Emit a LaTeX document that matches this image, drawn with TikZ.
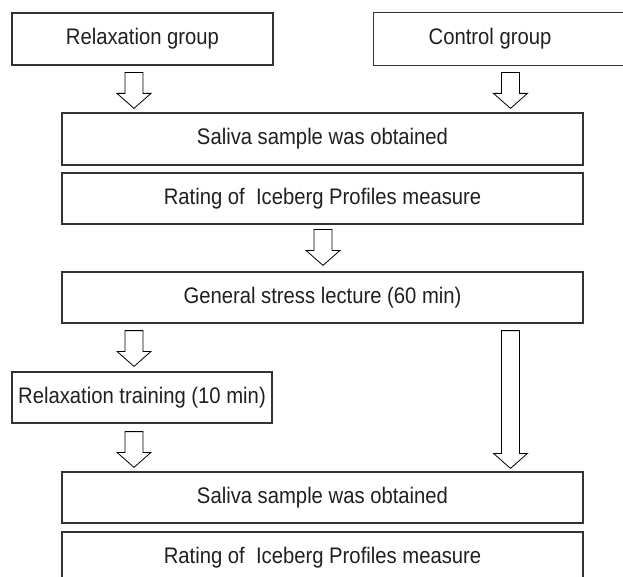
\documentclass[tikz,border=0pt]{standalone}
\usepackage{fontspec}
\setmainfont{Liberation Sans}[FakeStretch=0.9]
\usetikzlibrary{calc}
\definecolor{boxgray}{HTML}{333333}
\definecolor{txt}{HTML}{231F20}
\tikzset{
  flowbox/.style={draw=boxgray, line width=1.2pt, rectangle, inner sep=0pt,
    minimum height=51pt, text=txt, font=\fontsize{22.5}{26}\selectfont},
  openbox/.style={flowbox, draw=none},
  boxline/.style={draw=boxgray, line width=1.2pt},
  barrow/.style={draw=black, line width=0.8pt, fill=white, line join=miter}
}
\newcommand\blockarrow[2]{%
  \draw[barrow] ([xshift=-9pt]#1) -- ([xshift=-9pt,yshift=15pt]#2)
    -- ([xshift=-17pt,yshift=15pt]#2) -- (#2)
    -- ([xshift=17pt,yshift=15pt]#2) -- ([xshift=9pt,yshift=15pt]#2)
    -- ([xshift=9pt]#1) -- cycle;}
\begin{document}
\begin{tikzpicture}[x=1pt,y=-1pt]
\useasboundingbox (0,0) rectangle (623,577);
\clip (0,0) rectangle (623,577);
\fill[white] (0,0) rectangle (623,577);
% boxes
\node[flowbox, minimum width=261pt, minimum height=52pt] (rg) at (142.5,39) {Relaxation group};
\node[openbox, minimum width=232pt, minimum height=52pt] (cg) at (490,39) {Control group};
\draw[boxline] ([xshift=40pt]cg.north east) -- (cg.north west) -- (cg.south west) -- ([xshift=40pt]cg.south east);
\node[flowbox, minimum width=521pt, minimum height=52pt] (s1) at (322.5,139) {Saliva sample was obtained};
\node[flowbox, minimum width=521pt] (r1) at (322.5,198.5) {Rating of~ Iceberg Profiles measure};
\node[flowbox, minimum width=521pt] (gs) at (322.5,297.5) {General stress lecture (60 min)};
\node[flowbox, minimum width=260pt] (rt) at (142,397.5) {Relaxation training (10 min)};
\node[flowbox, minimum width=521pt] (s2) at (322.5,497.5) {Saliva sample was obtained};
\node[flowbox, minimum width=521pt] (r2) at (322.5,557.5) {Rating of~ Iceberg Profiles measure};
% arrow columns
\coordinate (xl) at (134,0);
\coordinate (xm) at (323,0);
\coordinate (xr) at (510.5,0);
% arrow ends
\coordinate (a1s) at ([yshift=-7pt]xl |- rg.south);
\coordinate (a1e) at ([yshift=4pt]xl |- s1.north);
\coordinate (a2s) at ([yshift=-7pt]xr |- cg.south);
\coordinate (a2e) at ([yshift=4pt]xr |- s1.north);
\coordinate (a3s) at ([yshift=-5pt]xm |- r1.south);
\coordinate (a3e) at ([yshift=6pt]xm |- gs.north);
\coordinate (a4s) at ([yshift=-7pt]xl |- gs.south);
\coordinate (a4e) at ([yshift=5pt]xl |- rt.north);
\coordinate (a5s) at ([yshift=-7pt]xr |- gs.south);
\coordinate (a5e) at ([yshift=3pt]xr |- s2.north);
\coordinate (a6s) at ([yshift=-8pt]xl |- rt.south);
\coordinate (a6e) at ([yshift=4pt]xl |- s2.north);
\blockarrow{a1s}{a1e}
\blockarrow{a2s}{a2e}
\blockarrow{a3s}{a3e}
\blockarrow{a4s}{a4e}
\blockarrow{a5s}{a5e}
\blockarrow{a6s}{a6e}
\end{tikzpicture}
\end{document}
